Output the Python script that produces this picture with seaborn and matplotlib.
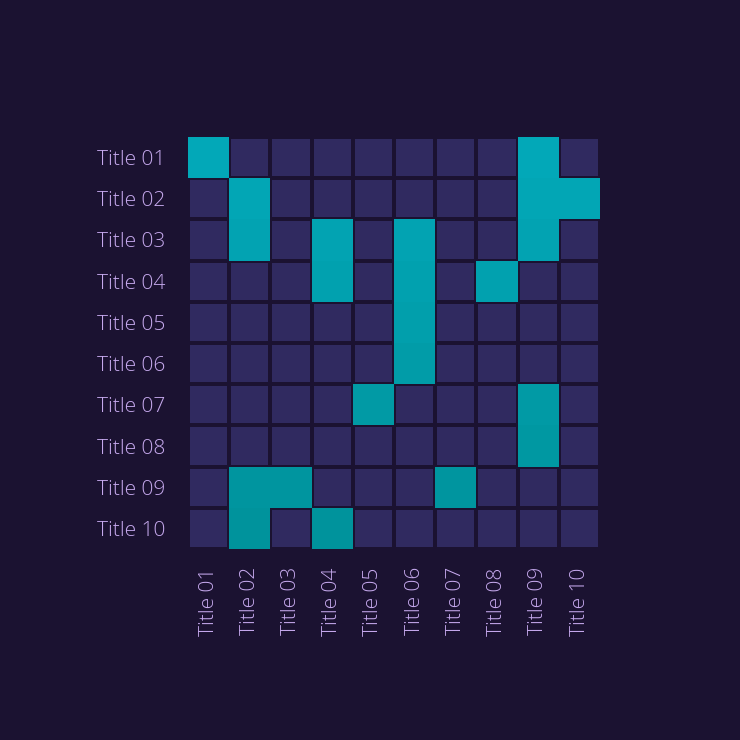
import numpy as np
import pandas as pd
import matplotlib
matplotlib.use("Agg")
import matplotlib.pyplot as plt
import seaborn as sns
from matplotlib.colors import ListedColormap, LinearSegmentedColormap

# Row / column labels
row_labels = ["Title 01", "Title 02", "Title 03", "Title 04", "Title 05",
              "Title 06", "Title 07", "Title 08", "Title 09", "Title 10"]
col_labels = ["Title 01", "Title 02", "Title 03", "Title 04", "Title 05",
              "Title 06", "Title 07", "Title 08", "Title 09", "Title 10"]

# highlighted cells: 1 = teal, 0 = dark
row01 = [1, 0, 0, 0, 0, 0, 0, 0, 1, 0]
row02 = [0, 1, 0, 0, 0, 0, 0, 0, 1, 1]
row03 = [0, 1, 0, 1, 0, 1, 0, 0, 1, 0]
row04 = [0, 0, 0, 1, 0, 1, 0, 1, 0, 0]
row05 = [0, 0, 0, 0, 0, 1, 0, 0, 0, 0]
row06 = [0, 0, 0, 0, 0, 1, 0, 0, 0, 0]
row07 = [0, 0, 0, 0, 1, 0, 0, 0, 1, 0]
row08 = [0, 0, 0, 0, 0, 0, 0, 0, 1, 0]
row09 = [0, 1, 1, 0, 0, 0, 1, 0, 0, 0]
row10 = [0, 1, 0, 1, 0, 0, 0, 0, 0, 0]

bg = "#1b1231"
dark_cell = "#302a60"
text_col = "#c6a9ee"

grid = pd.DataFrame([row01, row02, row03, row04, row05,
                     row06, row07, row08, row09, row10],
                    index=row_labels, columns=col_labels)

# teal shade gets slightly deeper towards the bottom rows
shade = grid.mul(np.arange(1, 11), axis=0)

fig = plt.figure(figsize=(7.4, 7.4), dpi=100, facecolor=bg)
ax = fig.add_axes([0.254, 0.258, 0.557, 0.557])
ax.set_facecolor(bg)

# base layer: all cells dark with gaps
sns.heatmap(grid * 0, ax=ax, cmap=ListedColormap([dark_cell]), cbar=False,
            linewidths=1.7, linecolor=bg, square=True)

# teal layer: merged highlighted cells
teal_cmap = LinearSegmentedColormap.from_list("teal", ["#02a8b8", "#00939c"])
sns.heatmap(shade, ax=ax, mask=(grid == 0), cmap=teal_cmap, vmin=1, vmax=10,
            cbar=False, linewidths=0, square=True)

ax.tick_params(length=0, colors=text_col)
ax.tick_params(axis="y", pad=16)
ax.tick_params(axis="x", pad=13)
ax.set_xticklabels(col_labels, rotation=90, fontsize=15, color=text_col,
                   family="Open Sans", fontweight="light")
ax.set_yticklabels(row_labels, rotation=0, fontsize=15, color=text_col,
                   family="Open Sans", fontweight="light", va="center_baseline")
ax.set_xlabel("")
ax.set_ylabel("")

fig.savefig("out.png", dpi=100, facecolor=bg)
